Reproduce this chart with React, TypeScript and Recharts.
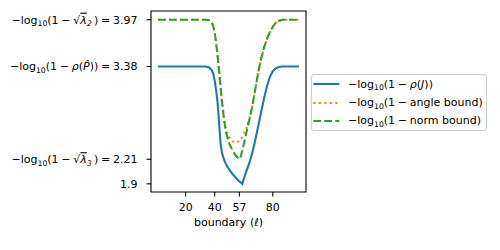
import { LineChart, Line, XAxis, YAxis, ReferenceArea } from "recharts"

const boundary = [
  1, 10, 20, 30, 34, 36, 38, 39, 40, 41, 42, 43, 44, 45, 46, 47, 48, 50, 52, 54, 56, 57, 58, 59, 60, 62, 64,
  66, 68, 70, 72, 74, 76, 78, 80, 82, 84, 86, 88, 90, 98,
]
const rhoJ = [
  3.38, 3.38, 3.38, 3.38, 3.38, 3.37, 3.33, 3.29, 3.2, 3.08, 2.92, 2.68, 2.42, 2.29, 2.23, 2.18, 2.14, 2.08,
  2.03, 1.99, 1.95, 1.93, 1.915, 1.9, 1.96, 2.07, 2.17, 2.3, 2.46, 2.63, 2.81, 2.98, 3.13, 3.25, 3.32, 3.355,
  3.372, 3.38, 3.38, 3.38, 3.38,
]
const angleBound = [
  3.97, 3.97, 3.97, 3.97, 3.97, 3.965, 3.935, 3.89, 3.81, 3.68, 3.51, 3.33, 3.13, 2.94, 2.78, 2.64, 2.57, 2.49,
  2.44, 2.42, 2.43, 2.44, 2.46, 2.49, 2.52, 2.61, 2.73, 2.89, 3.1, 3.31, 3.48, 3.62, 3.73, 3.81, 3.88, 3.93,
  3.955, 3.967, 3.97, 3.97, 3.97,
]
const normBound = [
  3.97, 3.97, 3.97, 3.97, 3.97, 3.965, 3.935, 3.89, 3.81, 3.68, 3.51, 3.33, 3.13, 2.94, 2.78, 2.64, 2.54, 2.41,
  2.33, 2.27, 2.23, 2.21, 2.25, 2.32, 2.4, 2.56, 2.72, 2.89, 3.1, 3.31, 3.48, 3.62, 3.73, 3.81, 3.88, 3.93,
  3.955, 3.967, 3.97, 3.97, 3.97,
]

const xTicks = [20, 40, 57, 80]
const yTicks = [1.9, 2.21, 3.38, 3.97]
// which math term goes in front of each y tick value
const yTickTerms = ["", "sqrtLambda3", "rhoP", "sqrtLambda2"]

const legendNames = ["ρ(J)", "angle bound", "norm bound"]
const colors = ["#1f77b4", "#ff7f0e", "#2ca02c"]
const dashes = ["", "2.1 3.4", "7.7 3.3"]

const data = boundary.map((b, i) => ({
  boundary: b,
  rhoJ: rhoJ[i],
  angle: angleBound[i],
  norm: normBound[i],
}))

const FONT = "'DejaVu Sans', sans-serif"
const X_DOMAIN = [-3.85, 102.85]
const Y_DOMAIN = [1.797, 4.08]
const SUB = 7.7
const SUB_DY = 2.6
const THIN = "\u2005"

function Term({ kind }: { kind: string }) {
  if (kind === "rhoP") {
    return (
      <>
        <tspan fontStyle="italic">ρ</tspan>
        <tspan>(</tspan>
        <tspan fontStyle="italic">P̂</tspan>
        <tspan>)</tspan>
      </>
    )
  }
  const sub = kind === "sqrtLambda2" ? "2" : "3"
  return (
    <>
      <tspan>√</tspan>
      <tspan fontStyle="italic" style={{ textDecoration: "overline" }}>
        λ
      </tspan>
      <tspan dy={SUB_DY} fontSize={SUB} fontStyle="italic">
        {sub}
      </tspan>
      <tspan dy={-SUB_DY}>{"\u2009"}</tspan>
    </>
  )
}

function YTick(props: any) {
  const { x, y, payload } = props
  const i = yTicks.indexOf(payload.value)
  const term = yTickTerms[i]
  return (
    <text
      x={x}
      y={y}
      dy="0.36em"
      textAnchor="end"
      fontFamily={FONT}
      fontSize={11}
      fill="#000"
      style={{ whiteSpace: "pre" }}
    >
      {term ? (
        <>
          <tspan>−log</tspan>
          <tspan dy={SUB_DY} fontSize={SUB}>
            10
          </tspan>
          <tspan dy={-SUB_DY}>{"(1" + THIN + "−" + THIN}</tspan>
          <Term kind={term} />
          <tspan>{")" + THIN + "=" + THIN + payload.value}</tspan>
        </>
      ) : (
        <tspan>{String(payload.value)}</tspan>
      )}
    </text>
  )
}

function XLabel(props: any) {
  const vb = props.viewBox
  return (
    <text
      x={vb.x + vb.width / 2}
      y={vb.y + 33.5}
      textAnchor="middle"
      fontFamily={FONT}
      fontSize={11}
      fill="#000"
      style={{ whiteSpace: "pre" }}
    >
      <tspan>boundary (</tspan>
      <tspan fontStyle="italic">ℓ</tspan>
      <tspan>)</tspan>
    </text>
  )
}

const subStyle = { fontSize: SUB, position: "relative" as const, top: SUB_DY }

function LegendBox() {
  return (
    <div
      style={{
        position: "absolute",
        left: 311,
        top: 74,
        width: 176,
        height: 57,
        border: "1px solid #cccccc",
        borderRadius: 3,
        background: "rgba(255,255,255,0.8)",
        boxSizing: "border-box",
        fontFamily: FONT,
        fontSize: 11,
        color: "#000",
      }}
    >
      {legendNames.map((name, i) => (
        <div
          key={name}
          style={{
            position: "absolute",
            left: 0,
            top: 0.3 + i * 18.3,
            height: 18,
            width: 174,
            display: "flex",
            alignItems: "center",
            whiteSpace: "pre",
          }}
        >
          <svg width={36} height={18} style={{ flex: "none" }}>
            <line
              x1={1.3}
              x2={27.3}
              y1={9}
              y2={9}
              stroke={colors[i]}
              strokeWidth={2.1}
              strokeDasharray={dashes[i] || undefined}
            />
          </svg>
          <span>
            −log<span style={subStyle}>10</span>(1{THIN}−{THIN}
            {i === 0 ? (
              <>
                <i>ρ</i>(<i>J</i>))
              </>
            ) : (
              name + ")"
            )}
          </span>
        </div>
      ))}
    </div>
  )
}

export default function App() {
  return (
    <div style={{ position: "absolute", left: 0, top: 0, width: 500, height: 250, background: "#fff" }}>
      <LineChart width={500} height={250} data={data} margin={{ top: 11, right: 194, bottom: 0, left: 0 }}>
        <XAxis
          dataKey="boundary"
          type="number"
          domain={X_DOMAIN}
          ticks={xTicks}
          interval={0}
          height={58}
          axisLine={false}
          tickLine={{ stroke: "#000", strokeWidth: 1.1 }}
          tickSize={4.5}
          tickMargin={6.4}
          tick={{ fill: "#000", fontSize: 11, fontFamily: FONT }}
          label={<XLabel />}
        />
        <YAxis
          type="number"
          domain={Y_DOMAIN}
          ticks={yTicks}
          interval={0}
          width={151}
          axisLine={false}
          tickLine={{ stroke: "#000", strokeWidth: 1.1 }}
          tickSize={4.5}
          tickMargin={9}
          tick={<YTick />}
        />
        <Line
          type="linear"
          dataKey="rhoJ"
          stroke={colors[0]}
          strokeWidth={2.1}
          dot={false}
          isAnimationActive={false}
        />
        <Line
          type="linear"
          dataKey="angle"
          stroke={colors[1]}
          strokeWidth={2.1}
          strokeDasharray={dashes[1]}
          dot={false}
          isAnimationActive={false}
        />
        <Line
          type="linear"
          dataKey="norm"
          stroke={colors[2]}
          strokeWidth={2.1}
          strokeDasharray={dashes[2]}
          dot={false}
          isAnimationActive={false}
        />
        <ReferenceArea
          x1={X_DOMAIN[0]}
          x2={X_DOMAIN[1]}
          y1={Y_DOMAIN[0]}
          y2={Y_DOMAIN[1]}
          fill="none"
          stroke="#000"
          strokeWidth={1.1}
          ifOverflow="visible"
        />
      </LineChart>
      <LegendBox />
    </div>
  )
}
